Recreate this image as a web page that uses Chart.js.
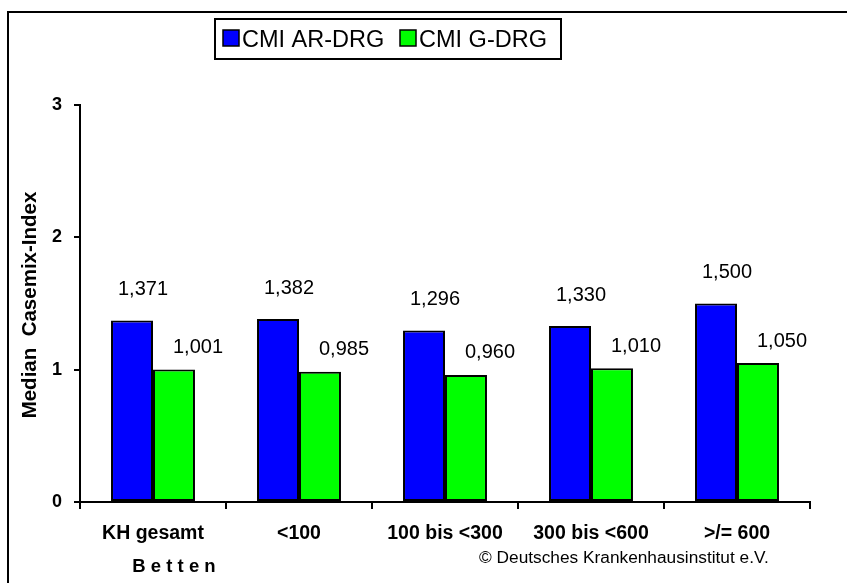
<!DOCTYPE html>
<html>
<head>
<meta charset="utf-8">
<script src="https://cdn.jsdelivr.net/npm/chart.js@4"></script>
<style>
  html, body { margin: 0; padding: 0; background: #fff; }
  #wrap { width: 847px; height: 583px; }
</style>
</head>
<body>
<div id="wrap"><canvas id="c" width="847" height="583"></canvas></div>
<script>
// Casemix-Index (median) by hospital size class
const categories = ['KH gesamt', '<100', '100 bis <300', '300 bis <600', '>/= 600'];
const cmiArDrg = [1.371, 1.382, 1.296, 1.330, 1.500];
const cmiGDrg = [1.001, 0.985, 0.960, 1.010, 1.050];
const seriesNames = ['CMI AR-DRG', 'CMI G-DRG'];
const yTicks = [0, 1, 2, 3];

const FONT = '"Liberation Sans", Arial, sans-serif';
const BLUE = '#0000ff';
const GREEN = '#00ff00';

// value labels sit above and slightly right of each bar
const labelShift = [{ dx: 11, dy: -31 }, { dx: 24, dy: -22 }];

const fmt = v => v.toFixed(3).replace('.', ',');

const decorations = {
  id: 'decorations',
  afterDraw(chart) {
    const ctx = chart.ctx;
    ctx.save();

    // outer frame
    ctx.strokeStyle = '#000';
    ctx.lineWidth = 2;
    ctx.strokeRect(8, 12, 900, 700);

    // value labels
    ctx.fillStyle = '#000';
    ctx.font = '20px ' + FONT;
    ctx.textAlign = 'center';
    ctx.textBaseline = 'middle';
    chart.data.datasets.forEach((ds, di) => {
      const meta = chart.getDatasetMeta(di);
      meta.data.forEach((bar, i) => {
        ctx.fillText(fmt(ds.data[i]), bar.x + labelShift[di].dx, bar.y + labelShift[di].dy);
      });
    });

    // legend
    ctx.lineWidth = 2;
    ctx.strokeRect(215, 19, 346, 40);
    const items = [{ x: 223, color: BLUE }, { x: 400, color: GREEN }];
    ctx.font = '23.5px ' + FONT;
    ctx.textAlign = 'left';
    ctx.textBaseline = 'alphabetic';
    items.forEach((it, i) => {
      ctx.fillStyle = it.color;
      ctx.fillRect(it.x, 30, 16, 16);
      ctx.lineWidth = 1.5;
      ctx.strokeStyle = '#000';
      ctx.strokeRect(it.x, 30, 16, 16);
      ctx.fillStyle = '#000';
      ctx.fillText(seriesNames[i], it.x + 19, 47);
    });

    // y axis title
    ctx.save();
    ctx.translate(30, 305);
    ctx.rotate(-Math.PI / 2);
    ctx.font = 'bold 20.5px ' + FONT;
    ctx.textAlign = 'center';
    ctx.textBaseline = 'middle';
    ctx.fillText('Median  Casemix-Index', 0, 0);
    ctx.restore();

    // x axis title
    ctx.font = 'bold 18.5px ' + FONT;
    ctx.textAlign = 'center';
    ctx.textBaseline = 'middle';
    ctx.fillText('B e t t e n', 174, 567);

    // source note
    ctx.font = '17.3px ' + FONT;
    ctx.textAlign = 'left';
    ctx.textBaseline = 'alphabetic';
    ctx.fillText('\u00a9 Deutsches Krankenhausinstitut e.V.', 479, 563);

    ctx.restore();
  }
};

new Chart(document.getElementById('c'), {
  type: 'bar',
  data: {
    labels: categories,
    datasets: [
      { label: seriesNames[0], data: cmiArDrg, backgroundColor: BLUE, borderColor: '#000', borderWidth: 2, borderSkipped: false },
      { label: seriesNames[1], data: cmiGDrg, backgroundColor: GREEN, borderColor: '#000', borderWidth: 2, borderSkipped: false }
    ]
  },
  options: {
    responsive: false,
    animation: false,
    events: [],
    categoryPercentage: 0.575,
    barPercentage: 1.0,
    layout: { padding: { left: 0, top: 105, right: 37, bottom: 0 } },
    plugins: { legend: { display: false }, tooltip: { enabled: false } },
    scales: {
      x: {
        grid: { display: true, drawOnChartArea: false, offset: true, tickLength: 7, color: '#000', lineWidth: 2 },
        border: { display: true, color: '#000', width: 2 },
        ticks: { color: '#000', font: { family: FONT, size: 19.5, weight: 'bold' }, padding: 13, maxRotation: 0, autoSkip: false },
        afterFit(scale) { scale.height = 81; }
      },
      y: {
        min: 0, max: 3,
        afterBuildTicks(scale) { scale.ticks = yTicks.map(v => ({ value: v })); },
        grid: { display: true, drawOnChartArea: false, tickLength: 6, color: '#000', lineWidth: 2 },
        border: { display: true, color: '#000', width: 2 },
        ticks: { color: '#000', font: { family: FONT, size: 18, weight: 'bold' }, padding: 12 },
        afterFit(scale) { scale.width = 80; }
      }
    }
  },
  plugins: [decorations]
});
</script>
</body>
</html>
